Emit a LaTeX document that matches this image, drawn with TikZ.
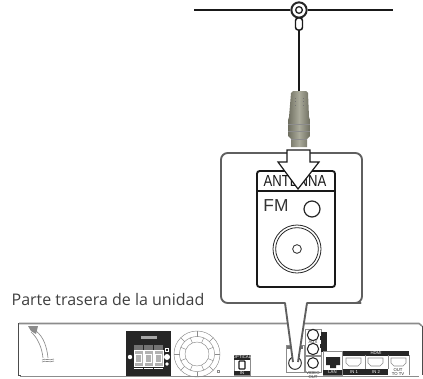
\documentclass[tikz,border=0pt]{standalone}
\usepackage{fontspec}
\usepackage{tikz}
\usetikzlibrary{calc}
\newfontfamily\armfont{Liberation Sans}
\newfontfamily\capfont{Open Sans}
\definecolor{calloutgray}{HTML}{5F5F5F}
\definecolor{plugdark}{HTML}{6E6E60}
\definecolor{pluglight}{HTML}{ABAB9B}
\definecolor{unitgray}{HTML}{8C8C8C}

\begin{document}
\begin{tikzpicture}[
  x=0.75pt,y=-0.75pt,
  wire/.style={line width=1.7pt,draw=black!90},
  callout/.style={draw=calloutgray,line width=1.4pt,fill=white,line join=round},
  panel/.style={draw=black!90,line width=1.4pt,rounded corners=2pt},
  port/.style={circle,draw=black!85,fill=white,inner sep=0pt},
  thin gray/.style={draw=unitgray,line width=0.35pt},
  jackbox/.style={draw=unitgray,line width=0.5pt,fill=white},
  blackbar/.style={fill=black!85,draw=none},
  tiny/.style={font=\armfont\fontsize{3.2}{3.4}\selectfont,inner sep=0pt,align=center,text=white},
  hdmi/.style={thin gray,fill=white,line width=0.45pt}
]
\useasboundingbox (0,0) rectangle (423,378);

% ---- antenna (top) ----
\coordinate (wireL) at (194,10);
\coordinate (wireR) at (393,10);
\node[port,line width=1.5pt,minimum size=11.5pt] (ring) at (299,10) {};
\draw[wire] (wireL) -- (ring);
\draw[wire] (ring) -- (wireR);
\node[port,line width=1pt,minimum size=5pt] (eye) at (ring) {};
\draw[fill=white,draw=black!90,line width=1.1pt,rounded corners=2pt] (295.5,18) rectangle (302.5,30);
\coordinate (stemtop) at (299,30);

% ---- plug ----
\coordinate (plugtop) at (299,92);
\draw[wire] (stemtop) -- (plugtop);
\shade[left color=plugdark,right color=plugdark,middle color=pluglight]
  (291,93) -- (293,91) -- (306,91) -- (308,93) -- (309,117) -- (310,120) -- (310,136)
  -- (307,139) -- (307,147) -- (291,147) -- (291,139) -- (288,136) -- (288,120) -- (289,117) -- cycle;
\draw[black!45,line width=0.4pt] (288,124) -- (310,124) (288,131) -- (310,131) (291,139) -- (307,139);
\draw[black!55,dotted,line width=0.5pt] (295,98) -- (295,108) (303,98) -- (303,108);

% ---- unit (bottom) ----
\draw[unitgray,line width=1.2pt] (19,323.5) -- (419,323.5) -- (422,326);
\draw[black!70,line width=0.5pt] (18,323) -- (18,375) -- (21,375);
\draw[black!70,line width=0.5pt] (422,326) -- (422,375);
\draw[unitgray,line width=1.2pt] (20,376.5) -- (419,376.5);

% hook
\fill[unitgray] (28,326) -- (38,326) -- (36,334) -- (31,331) -- cycle;
\draw[thin gray,line width=0.5pt] (36,331) .. controls (44,337) and (47,348) .. (48,358);
\draw[thin gray,line width=0.5pt] (31,332) .. controls (38,338) and (42,348) .. (43,358);
\draw[thin gray,line width=0.5pt] (42,360) .. controls (45,358) and (49,361) .. (54,359);
\draw[thin gray,line width=0.5pt] (42,362) .. controls (45,360) and (49,363) .. (54,361);

% speaker block
\fill[blackbar] (126,331) rectangle (171,376);
\fill[black!35] (141,336) rectangle (157,339);
\foreach \xa in {134,144,154}{
  \fill[black!55] (\xa,345) rectangle (\xa+9,350);
  \draw[white,line width=0.4pt,fill=black!30] (\xa,350) rectangle (\xa+9,366);
  \draw[white,line width=0.4pt] (\xa+1.5,354) rectangle (\xa+7.5,362);
  \draw[white,line width=0.5pt] (\xa,368.5) -- (\xa+9,368.5);
}
\fill[white] (130,357) circle (2.2);
\fill[white] (167,357) circle (3);
\fill[white] (167,364) circle (1.8);
\draw[white,line width=0.3pt] (165.5,348) rectangle (168.5,351);

% fan
\foreach \rr in {23,17.5,12}{ \draw[thin gray] (197,354) circle (\rr); }
\foreach \ang in {0,45,...,315}{
  \draw[thin gray] ($(197,354)+(\ang:23)$) -- ($(197,354)+(\ang:17.5)$);
  \draw[thin gray] ($(197,354)+(\ang+22.5:17.5)$) -- ($(197,354)+(\ang+22.5:12)$);
}
\draw[thin gray] (217,370) rectangle (219,372);

% optical
\draw[jackbox] (234,355) rectangle (250,375);
\fill[blackbar] (234,355) rectangle (250,359.5);
\fill[blackbar] (234,371) rectangle (250,375);
\node[tiny] (opticaltxt) at (242,357.2) {OPTICAL};
\node[tiny] (intxt) at (242,373) {IN};
\draw[black!90,line width=0.9pt,rounded corners=0.5pt] (239,361) rectangle (245,369);

% fm jack
\draw[jackbox] (286,345) rectangle (304,372);
\fill[black!55] (287,346) rectangle (293,349);
\fill[black!55] (297,346) rectangle (303,349);
\node[port,line width=0.7pt,minimum size=9.5pt] (fmjack) at (295,363) {};

% aux + video
\draw[jackbox] (305,329) rectangle (321,355);
\draw[jackbox] (305,356) rectangle (321,372);
\node[port,line width=0.8pt,minimum size=8.5pt] (aux1) at (313,335) {};
\node[port,line width=0.8pt,minimum size=8.5pt] (aux2) at (313,349) {};
\node[port,line width=0.8pt,minimum size=8pt] (video) at (313,363) {};
\node[tiny,text=black!80] (auxtxt) at (313,342) {AUX};
\node[tiny,text=black!80] (videotxt) at (313,375) {VIDEO\\OUT};
\fill[blackbar] (321,332) rectangle (327,352);
\draw[black!85,line width=0.5pt,dashed] (320,336) -- (320,349);

% lan
\draw[jackbox] (323,351) rectangle (342,375);
\fill[blackbar] (326,357) -- (340,357) -- (340,365) -- (336,365) -- (336,368) -- (330,368) -- (330,365) -- (326,365) -- cycle;
\fill[blackbar] (323,370) rectangle (342,375);
\node[tiny] (lantxt) at (332.5,372.5) {LAN};

% hdmi
\fill[blackbar] (343,351) rectangle (409,355.5);
\node[tiny] (hdmitxt) at (376,353.2) {HDMI};
\fill[blackbar] (343,369) rectangle (388,375);
\draw[thin gray] (365,355) -- (365,369) (388,355) -- (388,369) (409,355) -- (409,375);
\foreach \xa in {346,368,391}{
  \draw[hdmi] (\xa,358) -- (\xa+15,358) -- (\xa+15,363) -- (\xa+12,366) -- (\xa+3,366) -- (\xa,363) -- cycle;
}
\node[tiny] (in1txt) at (354,372) {IN 1};
\node[tiny] (in2txt) at (376,372) {IN 2};
\node[tiny,text=black!85] (outtxt) at (398,372) {OUT\\TO TV};

% ---- callout ----
\draw[callout] (293,362) -- (285,303) -- (229,303)
  [rounded corners=5pt] -- (221,303) -- (221,153) -- (362,153) -- (362,303) -- (354,303)
  [sharp corners] -- (307,303) -- (298,362);

% ---- panel ----
\node[draw=none,inner sep=0pt,font=\capfont\fontsize{12}{14}\selectfont,text=black!75] (unitlabel) at (108,299) {Parte trasera de la unidad};
\draw[panel,fill=white] (257,171) rectangle (335,287);
\draw[black!90,line width=1.2pt] (257,191) -- (335,191);
\node[inner sep=0pt,font=\armfont\fontsize{12}{13}\selectfont,text=black!90] (antennatxt) at (295,181) {\scalebox{0.82}[1]{ANTENNA}};
\node[inner sep=0pt,font=\armfont\fontsize{13}{14}\selectfont,text=black!80] (fmtxt) at (276,206) {FM};
\node[port,line width=0.9pt,minimum size=12pt] (fmhole) at (312,209) {};
\node[port,line width=0.6pt,minimum size=36pt] (outerdial) at (297,249) {};
\node[port,line width=0.6pt,minimum size=32pt] (innerdial) at (297,249) {};
\node[port,line width=0.6pt,minimum size=6.5pt] (pin) at (297,249) {};

% ---- arrow ----
\draw[fill=white,draw=black!90,line width=0.9pt,line join=miter]
  (287,150) -- (310,150) -- (310,162) -- (319,162) -- (298,189) -- (278,162) -- (287,162) -- cycle;
\end{tikzpicture}
\end{document}
